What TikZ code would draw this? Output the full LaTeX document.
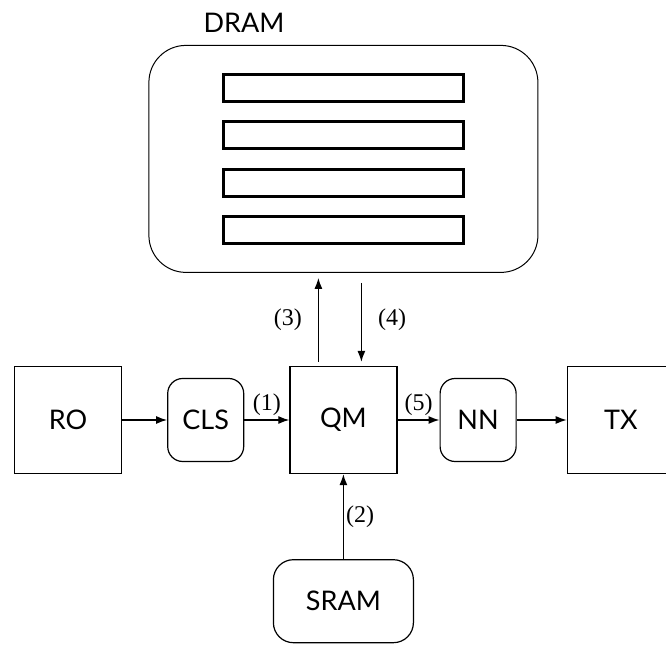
\documentclass[tikz,border=0pt]{standalone}
\usepackage{fontspec}
\setmainfont{Lato}
\newfontfamily\numfont{Liberation Serif}
\usepackage{tikz}
\usetikzlibrary{arrows.meta,positioning,shadows}

\begin{document}
\begin{tikzpicture}[x=1pt, y=1pt, >={Latex[length=11pt,width=8pt]}, node distance=45pt,
  every node/.style={font=\fontsize{27}{30}\selectfont, align=center},
  squarebox/.style={draw, line width=1.2pt, minimum width=107pt, minimum height=107pt},
  roundbox/.style={draw, line width=1.2pt, rounded corners=15pt, minimum width=76pt, minimum height=83pt},
  membar/.style={draw, line width=3pt, minimum width=240pt, minimum height=27pt,
    drop shadow={opacity=0.25, shadow xshift=1pt, shadow yshift=-1pt}, fill=white},
  link/.style={->, line width=1.3pt},
  steplabel/.style={font=\numfont\fontsize{24}{27}\selectfont, inner sep=4pt}]
  \useasboundingbox (0,0) rectangle (666,645);
  \clip (0,0) rectangle (666,645);
  \node[squarebox] (ro) at (68,225) {RO};
  \node[roundbox, right=of ro] (cls) {CLS};
  \node[squarebox, right=of cls] (qm) {QM};
  \node[roundbox, right=42pt of qm] (nn) {NN};
  \node[squarebox, right=50pt of nn] (tx) {TX};
  \node[draw, line width=1pt, rounded corners=37pt, minimum width=389pt, minimum height=227pt,
    above=93pt of qm] (dram) {};
  \node[anchor=south west, inner sep=0pt] (dramlabel) at ([xshift=55pt, yshift=12pt]dram.north west) {DRAM};
  \foreach \dy [count=\i] in {71.25,23.75,-23.75,-71.25}
    \node[membar] (bar\i) at ([yshift=\dy pt]dram.center) {};
  \node[roundbox, rounded corners=20pt, minimum width=140pt, below=85pt of qm] (sram) {SRAM};
  % links between the blocks
  \draw[link] (ro) -- (cls);
  \draw[link] (cls) -- node[steplabel, above] (lbl1) {(1)} (qm);
  \draw[link] (qm) -- node[steplabel, above] (lbl5) {(5)} (nn);
  \draw[link] (nn) -- (tx);
  \draw[link] (sram) -- node[steplabel, right, inner sep=2pt] (lbl2) {(2)} (qm);
  \coordinate (rdout) at ([xshift=-25pt]qm.north);
  \coordinate (rdin) at ([xshift=18pt]qm.north);
  \draw[link, shorten <=4pt, shorten >=5pt] (rdout) -- node[steplabel, left=12pt] (lbl3) {(3)} (rdout |- dram.south);
  \draw[link, shorten <=10pt, shorten >=4pt] (rdin |- dram.south) -- node[steplabel, right=12pt] (lbl4) {(4)} (rdin);
\end{tikzpicture}
\end{document}
